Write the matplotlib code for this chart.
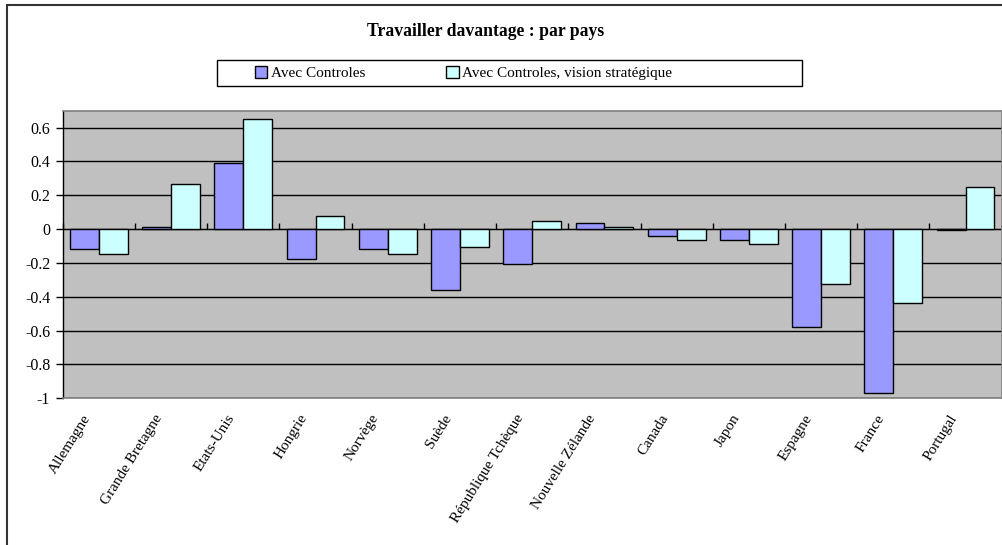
import numpy as np
import matplotlib
matplotlib.use("Agg")
import matplotlib.pyplot as plt
from matplotlib.patches import Rectangle, Patch
from matplotlib.transforms import ScaledTranslation

categories = ["Allemagne", "Grande Bretagne", "Etats-Unis", "Hongrie", "Norvège", "Suède",
              "République Tchèque", "Nouvelle Zélande", "Canada", "Japon", "Espagne",
              "France", "Portugal"]
avec_controles = [-0.12, 0.01, 0.39, -0.175, -0.12, -0.36, -0.205, 0.035, -0.04, -0.065,
                  -0.58, -0.97, -0.005]
avec_strategique = [-0.145, 0.265, 0.65, 0.08, -0.145, -0.105, 0.047, 0.012, -0.067, -0.09,
                    -0.325, -0.435, 0.25]
series_names = ["Avec Controles", "Avec Controles, vision stratégique"]
yticks = [0.6, 0.4, 0.2, 0, -0.2, -0.4, -0.6, -0.8, -1]
ytick_labels = ["0.6", "0.4", "0.2", "0", "-0.2", "-0.4", "-0.6", "-0.8", "-1"]

plt.rcParams['font.family'] = ['Liberation Serif', 'DejaVu Serif']

W, H = 1002, 545
fig = plt.figure(figsize=(W / 100, H / 100), dpi=100)
fig.patch.set_facecolor('white')

# outer chart border (left and top visible)
fig.add_artist(Rectangle((7 / W, -0.1), 1.2, 1 - 5 / H + 0.1, transform=fig.transFigure,
                         fill=False, edgecolor='#333333', lw=1.5, clip_on=False))

ax = fig.add_axes([62.7 / W, 1 - 398.3 / H, 939 / W, 287.6 / H])
ax.set_facecolor('#C0C0C0')

x = np.arange(len(categories))
bw = 0.4
ax.bar(x - bw / 2, avec_controles, width=bw, color='#9999FF', edgecolor='black', lw=1, zorder=3,
       label=series_names[0])
ax.bar(x + bw / 2, avec_strategique, width=bw, color='#CCFFFF', edgecolor='black', lw=1, zorder=3,
       label=series_names[1])

ax.set_xlim(-0.5, len(categories) - 0.5)
ax.set_ylim(-1, 0.7)
ax.set_yticks(yticks)
ax.set_yticklabels(ytick_labels, fontsize=11.5)
ax.tick_params(axis='y', direction='out', length=5, width=1, color='black', pad=4)
ax.yaxis.grid(True, color='black', lw=1, zorder=1)
ax.set_axisbelow(True)

ax.set_xticks(x)
ax.set_xticklabels(categories, rotation=58, ha='right', rotation_mode='anchor', fontsize=11)
ax.tick_params(axis='x', length=0, pad=10)
offset = ScaledTranslation(-17 / 100, 0, fig.dpi_scale_trans)
for lab in ax.get_xticklabels():
    lab.set_transform(lab.get_transform() + offset)

for s in ['top', 'right', 'bottom']:
    ax.spines[s].set_color('#808080')
    ax.spines[s].set_linewidth(1.2)
ax.spines['left'].set_color('black')
ax.spines['left'].set_linewidth(1)

# category axis at zero with boundary tick marks
sec = ax.secondary_xaxis((0 - (-1)) / 1.7)
sec.set_xticks(np.arange(len(categories) + 1) - 0.5)
sec.set_xticklabels([])
sec.tick_params(direction='out', length=4, width=1, color='black')
sec.spines['bottom'].set_color('black')
sec.spines['bottom'].set_linewidth(1)

fig.text(486 / W, 1 - 32 / H, "Travailler davantage : par pays", ha='center', va='center',
         fontsize=12.7, fontweight='bold')

# legend box
fig.add_artist(Rectangle((217 / W, 1 - 86 / H), (802 - 217) / W, 26 / H, transform=fig.transFigure,
                         fill=True, facecolor='white', edgecolor='black', lw=1))
handles = [Patch(facecolor='#9999FF', edgecolor='black', lw=1),
           Patch(facecolor='#CCFFFF', edgecolor='black', lw=1)]
leg = fig.legend(handles, series_names, loc='center left', bbox_to_anchor=(255 / W, 1 - 73 / H),
                 ncol=2, frameon=False, fontsize=11, handlelength=0.8, handleheight=0.8,
                 handletextpad=0.25, columnspacing=5.3, borderpad=0, borderaxespad=0)

fig.savefig("out.png", dpi=100)
